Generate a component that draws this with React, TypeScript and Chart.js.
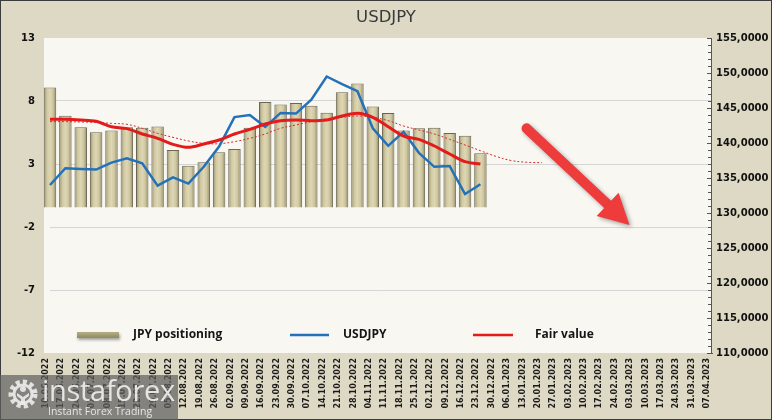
import React, { useEffect, useRef } from 'react';
import { Chart, registerables } from 'chart.js';

Chart.register(...registerables);

// ---------- data ----------
const CATEGORIES = [
  '10.06.2022', '17.06.2022', '24.06.2022', '01.07.2022', '08.07.2022', '15.07.2022',
  '22.07.2022', '29.07.2022', '05.08.2022', '12.08.2022', '19.08.2022', '26.08.2022',
  '02.09.2022', '09.09.2022', '16.09.2022', '23.09.2022', '30.09.2022', '07.10.2022',
  '14.10.2022', '21.10.2022', '28.10.2022', '04.11.2022', '11.11.2022', '18.11.2022',
  '25.11.2022', '02.12.2022', '09.12.2022', '16.12.2022', '23.12.2022', '30.12.2022',
  '06.01.2023', '13.01.2023', '20.01.2023', '27.01.2023', '03.02.2023', '10.02.2023',
  '17.02.2023', '24.02.2023', '03.03.2023', '10.03.2023', '17.03.2023', '24.03.2023',
  '31.03.2023', '07.04.2023',
];

const JPY_POSITIONING = [
  9.07, 6.83, 5.92, 5.52, 5.66, 5.92, 5.87, 5.98, 4.12, 2.87, 3.13, 3.93, 4.2, 5.87,
  7.92, 7.73, 7.84, 7.63, 7.07, 8.69, 9.38, 7.57, 7.04, 5.66, 5.84, 5.87, 5.47, 5.24, 3.85,
];

const USDJPY = [
  134.0, 136.4, 136.3, 136.2, 137.2, 137.8, 137.1, 133.9, 135.1, 134.2, 136.6, 139.5,
  143.7, 144.0, 142.3, 144.3, 144.2, 146.2, 149.5, 148.4, 147.4, 142.1, 139.6, 141.6,
  138.6, 136.6, 136.7, 132.7, 134.1,
];

const FAIR_VALUE = [
  143.38, 143.38, 143.29, 143.1, 142.33, 142.05, 141.29, 140.67, 139.81, 139.38, 139.86,
  140.43, 141.29, 141.95, 142.71, 143.19, 143.29, 143.19, 143.29, 143.86, 144.24, 143.67,
  142.33, 141.0, 140.52, 139.57, 138.43, 137.33, 137.0,
];

const FAIR_VALUE_TREND = [
  143.05, 143.05, 143.0, 142.95, 142.8, 142.67, 142.1, 141.38, 140.81, 140.29, 139.95,
  139.9, 140.19, 140.67, 141.29, 142.1, 142.57, 143.05, 143.43, 143.67, 143.86, 143.67,
  143.19, 142.43, 141.86, 141.29, 140.52, 139.71, 138.9, 138.1, 137.5, 137.25, 137.19,
];

const LEFT_TICKS = { min: -12, max: 13, step: 5 };
const RIGHT_TICKS = { min: 110, max: 155, step: 5 };
const BAR_BASE = -0.45;

// arrow annotation in data units (category index, right-axis value)
const ARROW_FROM = { x: 31.0, y: 142.1 };
const ARROW_TO = { x: 37.7, y: 128.3 };

const TITLE = 'USDJPY';
const LEGEND_LABELS = ['JPY positioning', 'USDJPY', 'Fair value'];

// ---------- styles ----------
const BG_OUTER = '#DDD9C4';
const BG_PLOT = '#F8F7F2';
const BAR_PCT = 0.81;
const BLUE = '#2372B9';
const RED = '#E31B1B';

function barFill(ctx: any) {
  const chart = ctx.chart;
  const xs = chart.scales && chart.scales.x;
  if (!xs || ctx.type !== 'data' || !chart.chartArea) return '#D4CDA6';
  const cx = xs.getPixelForValue(ctx.dataIndex);
  const half = ((xs.getPixelForValue(1) - xs.getPixelForValue(0)) * BAR_PCT) / 2;
  if (!isFinite(cx) || !isFinite(half)) return '#D4CDA6';
  const g = chart.ctx.createLinearGradient(cx - half, 0, cx + half, 0);
  g.addColorStop(0, '#948E68');
  g.addColorStop(0.25, '#CFC8A2');
  g.addColorStop(0.5, '#DED7B3');
  g.addColorStop(0.75, '#CCC59F');
  g.addColorStop(1, '#8C8662');
  return g;
}

const decor = {
  id: 'decor',
  beforeDraw(chart: any) {
    const { ctx, chartArea: a, width, height } = chart;
    ctx.save();
    ctx.fillStyle = BG_OUTER;
    ctx.fillRect(0, 0, width, height);
    ctx.fillStyle = BG_PLOT;
    ctx.fillRect(a.left - 6, a.top, a.right - a.left + 6, a.bottom - a.top);
    ctx.restore();
  },
  afterDatasetsDraw(chart: any) {
    const { ctx } = chart;
    const xs = chart.scales.x;
    const yr = chart.scales.yR;
    const x1 = xs.getPixelForValue(ARROW_FROM.x);
    const y1 = yr.getPixelForValue(ARROW_FROM.y);
    const x2 = xs.getPixelForValue(ARROW_TO.x);
    const y2 = yr.getPixelForValue(ARROW_TO.y);
    const ang = Math.atan2(y2 - y1, x2 - x1);
    const headLen = 30;
    const headHalf = 16;
    const bx = x2 - headLen * Math.cos(ang);
    const by = y2 - headLen * Math.sin(ang);
    ctx.save();
    ctx.shadowColor = 'rgba(0,0,0,0.35)';
    ctx.shadowBlur = 4;
    ctx.shadowOffsetX = 2;
    ctx.shadowOffsetY = 2;
    ctx.strokeStyle = '#EE3B3B';
    ctx.fillStyle = '#EE3B3B';
    ctx.lineWidth = 10;
    ctx.lineCap = 'round';
    ctx.beginPath();
    ctx.moveTo(x1, y1);
    ctx.lineTo(bx, by);
    ctx.stroke();
    ctx.beginPath();
    ctx.moveTo(x2, y2);
    ctx.lineTo(bx + headHalf * Math.sin(ang), by - headHalf * Math.cos(ang));
    ctx.lineTo(bx - headHalf * Math.sin(ang), by + headHalf * Math.cos(ang));
    ctx.closePath();
    ctx.fill();
    ctx.restore();
  },
  afterDraw(chart: any) {
    const { ctx, chartArea: a, width, height } = chart;
    const yr = chart.scales.yR;
    ctx.save();
    // right axis minor ticks (inward)
    ctx.strokeStyle = '#555';
    ctx.lineWidth = 1;
    for (let v = RIGHT_TICKS.min; v <= RIGHT_TICKS.max; v += 1) {
      const y = Math.round(yr.getPixelForValue(v)) + 0.5;
      const len = v % 5 === 0 ? 4 : 3;
      ctx.beginPath();
      ctx.moveTo(a.right - len, y);
      ctx.lineTo(a.right + (v === RIGHT_TICKS.min ? 2 : 0), y);
      ctx.stroke();
    }
    // title
    ctx.fillStyle = '#3A3A3A';
    ctx.font = '16.5px "DejaVu Sans"';
    ctx.textAlign = 'center';
    ctx.textBaseline = 'middle';
    ctx.fillText(TITLE, width / 2, 18);
    // legend
    const ly = 335;
    ctx.save();
    ctx.shadowColor = 'rgba(0,0,0,0.35)';
    ctx.shadowBlur = 3;
    ctx.shadowOffsetX = 1;
    ctx.shadowOffsetY = 2;
    const sg = ctx.createLinearGradient(0, ly - 3, 0, ly + 3);
    sg.addColorStop(0, '#B5AF86');
    sg.addColorStop(1, '#8F895F');
    ctx.fillStyle = sg;
    ctx.fillRect(77, ly - 3, 42, 6);
    ctx.restore();
    ctx.lineWidth = 2.5;
    ctx.strokeStyle = BLUE;
    ctx.beginPath();
    ctx.moveTo(290, ly);
    ctx.lineTo(329, ly);
    ctx.stroke();
    ctx.lineWidth = 2.5;
    ctx.strokeStyle = RED;
    ctx.beginPath();
    ctx.moveTo(473, ly);
    ctx.lineTo(513, ly);
    ctx.stroke();
    ctx.fillStyle = '#151515';
    ctx.font = '700 12px "Open Sans"';
    ctx.textAlign = 'left';
    ctx.textBaseline = 'middle';
    ctx.fillText(LEGEND_LABELS[0], 133, ly);
    ctx.fillText(LEGEND_LABELS[1], 343, ly);
    ctx.fillText(LEGEND_LABELS[2], 535, ly);
    // outer border
    ctx.strokeStyle = '#3C3C3C';
    ctx.lineWidth = 1;
    ctx.strokeRect(0.5, 0.5, width - 1, height - 1);
    ctx.restore();
  },
};

const axisFont = { family: 'DejaVu Sans', weight: 'bold' as const, size: 10 };

export default function App() {
  const ref = useRef<HTMLCanvasElement | null>(null);

  useEffect(() => {
    if (!ref.current) return;
    const chart = new Chart(ref.current, {
      type: 'bar',
      data: {
        labels: CATEGORIES,
        datasets: [
          {
            type: 'bar',
            label: LEGEND_LABELS[0],
            data: JPY_POSITIONING,
            yAxisID: 'y',
            base: BAR_BASE,
            backgroundColor: barFill,
            borderColor: '#6B6650',
            borderWidth: 1,
            barPercentage: BAR_PCT,
            categoryPercentage: 1,
            clip: false,
            order: 4,
          } as any,
          {
            type: 'line',
            label: 'trend',
            data: FAIR_VALUE_TREND,
            yAxisID: 'yR',
            borderColor: '#D92B2B',
            borderWidth: 1,
            borderDash: [2, 2],
            pointRadius: 0,
            tension: 0.4,
            order: 3,
          },
          {
            type: 'line',
            label: LEGEND_LABELS[1],
            data: USDJPY,
            yAxisID: 'yR',
            borderColor: BLUE,
            borderWidth: 2.5,
            pointRadius: 0,
            tension: 0,
            order: 2,
          },
          {
            type: 'line',
            label: LEGEND_LABELS[2],
            data: FAIR_VALUE,
            yAxisID: 'yR',
            borderColor: RED,
            borderWidth: 3,
            pointRadius: 0,
            tension: 0.4,
            cubicInterpolationMode: 'monotone',
            order: 1,
          },
        ],
      },
      options: {
        animation: false,
        responsive: true,
        maintainAspectRatio: false,
        layout: { padding: { top: 38, left: 0, right: 0, bottom: 0 } },
        plugins: { legend: { display: false }, tooltip: { enabled: false }, title: { display: false } },
        scales: {
          x: {
            type: 'category',
            offset: false,
            grid: { display: false, drawTicks: false },
            border: { display: false },
            ticks: {
              autoSkip: false,
              minRotation: 90,
              maxRotation: 90,
              padding: 5,
              labelOffset: -4,
              color: '#1A1A1A',
              font: { family: 'DejaVu Sans', weight: 'bold', size: 8 },
            },
            afterFit: (s: any) => { s.height = 67; },
          },
          y: {
            position: 'left',
            min: LEFT_TICKS.min,
            max: LEFT_TICKS.max,
            ticks: { stepSize: LEFT_TICKS.step, padding: 15, color: '#111', font: axisFont },
            grid: {
              drawTicks: false,
              color: (c: any) =>
                c.tick && (c.tick.value === LEFT_TICKS.min || c.tick.value === LEFT_TICKS.max)
                  ? 'rgba(0,0,0,0)'
                  : '#D5D5D5',
            },
            border: { display: false },
            afterFit: (s: any) => { s.width = 50; },
          },
          yR: {
            position: 'right',
            min: RIGHT_TICKS.min,
            max: RIGHT_TICKS.max,
            ticks: {
              stepSize: RIGHT_TICKS.step,
              padding: 5,
              color: '#111',
              font: axisFont,
              callback: (v: any) => `${v},0000`,
            },
            grid: { display: false, drawTicks: false },
            border: { display: true, color: '#555', width: 1 },
            afterFit: (s: any) => { s.width = 61; },
          },
        },
      } as any,
      plugins: [decor],
    });
    return () => chart.destroy();
  }, []);

  return (
    <div style={{ position: 'absolute', left: 0, top: 0, width: 772, height: 420 }}>
      <canvas ref={ref} />
      <div
        style={{
          position: 'absolute',
          left: 0,
          top: 375,
          width: 178,
          height: 45,
          background: 'rgba(95,95,95,0.72)',
          overflow: 'hidden',
          pointerEvents: 'none',
        }}
      >
        <svg width="34" height="32" viewBox="0 0 34 32" style={{ position: 'absolute', left: 6, top: 3 }}>
          <circle cx="17" cy="16" r="12" fill="none" stroke="rgba(235,235,235,0.9)" strokeWidth="5" strokeDasharray="4 3" />
          <circle cx="17" cy="16" r="9" fill="none" stroke="rgba(235,235,235,0.9)" strokeWidth="3" />
          <circle cx="17" cy="11" r="3" fill="rgba(235,235,235,0.9)" />
          <path d="M11 15 L17 19 L23 15 L23 18 L19 21 L19 27 L15 27 L15 21 L11 18 Z" fill="rgba(235,235,235,0.9)" />
        </svg>
        <span
          style={{
            position: 'absolute',
            left: 42,
            top: -2,
            fontFamily: '"Open Sans"',
            fontSize: 29,
            fontWeight: 400,
            lineHeight: '34px',
            color: 'rgba(238,238,238,0.92)',
            letterSpacing: '-0.3px',
            whiteSpace: 'nowrap',
          }}
        >
          instaforex
        </span>
        <span
          style={{
            position: 'absolute',
            left: 48,
            top: 30,
            fontFamily: '"Open Sans"',
            fontSize: 10.5,
            lineHeight: '13px',
            color: 'rgba(238,238,238,0.92)',
            whiteSpace: 'nowrap',
          }}
        >
          Instant Forex Trading
        </span>
      </div>
    </div>
  );
}
